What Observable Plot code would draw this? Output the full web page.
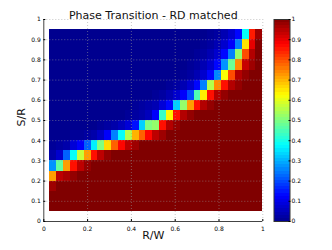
<!DOCTYPE html>
<html><head><meta charset="utf-8">
<script src="https://cdn.jsdelivr.net/npm/d3@7"></script>
<script src="https://cdn.jsdelivr.net/npm/@observablehq/plot@0.6"></script>
<style>
html,body{margin:0;padding:0;background:#fff;}
#chart{position:relative;width:332px;height:250px;font-family:"DejaVu Sans",sans-serif;}
#chart svg{position:absolute;left:0;top:0;}
</style></head><body><div id="chart"></div>
<script>
const title = "Phase Transition - RD matched";
const xLabel = "R/W";
const yLabel = "S/R";

// column centres (R/W) and row centres (S/R) of the grid
const rw = [0.0431,0.0745,0.1058,0.1372,0.1686,0.1999,0.2313,0.2627,0.2941,0.3254,
            0.3568,0.3882,0.4195,0.4509,0.4823,0.5137,0.5450,0.5764,0.6078,0.6391,
            0.6705,0.7019,0.7332,0.7646,0.7960,0.8274,0.8587,0.8901,0.9215,0.9528,0.9842];
const rwWidth = 0.03137;
const sr = [0.075,0.125,0.175,0.225,0.275,0.325,0.375,0.425,0.475,0.525,
            0.575,0.625,0.675,0.725,0.775,0.825,0.875,0.925];
const srHeight = 0.05;

// success probability, one row per S/R value (bottom to top), one entry per R/W column
const success = [
 [1,1,1,1,1, 1,1,1,1,1, 1,1,1,1,1, 1,1,1,1,1, 1,1,1,1,1, 1,1,1,1,1, 1],
 [1,1,1,1,1, 1,1,1,1,1, 1,1,1,1,1, 1,1,1,1,1, 1,1,1,1,1, 1,1,1,1,1, 1],
 [0.97, 1,1,1,1,1, 1,1,1,1,1, 1,1,1,1,1, 1,1,1,1,1, 1,1,1,1,1, 1,1,1,1,1],
 [0.72,0.94,0.96,0.98, 1,1,1,1,1, 1,1,1,1,1, 1,1,1,1,1, 1,1,1,1,1, 1,1,1,1,1, 1,1],
 [0.27,0.47,0.72,0.86,0.94,0.98, 1,1,1,1,1, 1,1,1,1,1, 1,1,1,1,1, 1,1,1,1,1, 1,1,1,1,1],
 [0.03,0.07,0.22,0.38,0.57,0.72,0.86,0.94,0.98, 1,1,1,1,1, 1,1,1,1,1, 1,1,1,1,1, 1,1,1,1,1, 1,1],
 [0.01,0.02,0.03,0.08,0.12,0.22,0.36,0.5,0.66,0.78,0.87,0.94,0.97, 1,1,1,1,1, 1,1,1,1,1, 1,1,1,1,1, 1,1,1],
 [0,0,0,0.01,0.01,0.02,0.03,0.06,0.12,0.25,0.38,0.55,0.7,0.78,0.87,0.94,0.97, 1,1,1,1,1, 1,1,1,1,1, 1,1,1,1],
 [0,0,0,0,0,0,0,0.01,0.02,0.03,0.05,0.08,0.14,0.33,0.5,0.52,0.86,0.95,0.98, 1,1,1,1,1, 1,1,1,1,1, 1,1],
 [0,0,0,0,0, 0,0,0,0,0, 0, 0.01,0.02,0.03,0.05,0.12,0.43,0.63,0.86,0.95,0.98, 1,1,1,1,1, 1,1,1,1,1],
 [0,0,0,0,0, 0,0,0,0,0, 0,0, 0.01,0.02,0.03,0.04,0.08,0.13,0.33,0.52,0.72,0.86,0.95,0.98, 1,1,1,1,1, 1,1],
 [0,0,0,0,0, 0,0,0,0,0, 0,0,0,0,0, 0.01,0.02,0.04,0.07,0.12,0.2,0.45,0.64,0.86,0.95,0.98, 1,1,1,1,1],
 [0,0,0,0,0, 0,0,0,0,0, 0,0,0,0,0, 0,0, 0.01,0.02,0.04,0.07,0.13,0.25,0.55,0.74,0.86,0.95,0.98, 1,1,1],
 [0,0,0,0,0, 0,0,0,0,0, 0,0,0,0,0, 0,0,0,0, 0.01,0.02,0.04,0.07,0.13,0.26,0.62,0.8,0.95,0.98, 1,1],
 [0,0,0,0,0, 0,0,0,0,0, 0,0,0,0,0, 0,0,0,0,0, 0.01,0.02,0.04,0.07,0.13,0.27,0.48,0.74,0.93,0.97,1],
 [0,0,0,0,0, 0,0,0,0,0, 0,0,0,0,0, 0,0,0,0,0, 0, 0.01,0.02,0.04,0.07,0.13,0.25,0.52,0.8,0.95,1],
 [0,0,0,0,0, 0,0,0,0,0, 0,0,0,0,0, 0,0,0,0,0, 0,0, 0.01,0.02,0.04,0.07,0.12,0.25,0.65,0.9,1],
 [0,0,0,0,0, 0,0,0,0,0, 0,0,0,0,0, 0,0,0,0,0, 0,0,0, 0.01,0.02,0.04,0.07,0.13,0.38,0.85,0.97]
];

const xTicks = [0, 0.2, 0.4, 0.6, 0.8, 1];
const yTicks = [0, 0.1, 0.2, 0.3, 0.4, 0.5, 0.6, 0.7, 0.8, 0.9, 1];
const cbTicks = [0, 0.1, 0.2, 0.3, 0.4, 0.5, 0.6, 0.7, 0.8, 0.9, 1];
const jetStops = [0, 0.125, 0.375, 0.625, 0.875, 1];
const jetColors = ["#00008f", "#0000ff", "#00ffff", "#ffff00", "#ff0000", "#800000"];
const cbLevels = d3.range(64);

const cells = sr.flatMap((s, i) => rw.map((r, j) => ({r, s, v: success[i][j]})));
const colorOpts = () => ({type: "linear", domain: jetStops, range: jetColors, interpolate: "rgb"});
const fmt = d => String(d);

const main = Plot.plot({
  width: 332, height: 250,
  marginLeft: 43.3, marginRight: 69.7, marginTop: 19, marginBottom: 29,
  style: {fontFamily: "DejaVu Sans", fontSize: "6px", color: "#000", background: "transparent", overflow: "visible"},
  x: {domain: [0, 1]},
  y: {domain: [0, 1]},
  color: colorOpts(),
  marks: [
    Plot.rect(cells, {
      x1: d => d.r - rwWidth / 2, x2: d => d.r + rwWidth / 2,
      y1: d => d.s - srHeight / 2, y2: d => d.s + srHeight / 2,
      fill: "v", shapeRendering: "crispEdges"
    }),
    Plot.gridX(xTicks.slice(1), {stroke: "#999", strokeOpacity: 0.55, strokeDasharray: "1,2"}),
    Plot.gridY(yTicks.slice(1), {stroke: "#999", strokeOpacity: 0.55, strokeDasharray: "1,2"}),
    Plot.ruleX([0], {stroke: "#444"}),
    Plot.ruleY([0], {stroke: "#444"}),
    Plot.axisX(xTicks, {tickSize: -2, tickPadding: 7.5, tickFormat: fmt, label: null}),
    Plot.axisY(yTicks, {tickSize: -2, tickPadding: 5, tickFormat: fmt, label: null}),
    Plot.text([title], {frameAnchor: "top", dy: -8.5, fontSize: 11, text: d => d, fill: "#111"}),
    Plot.text([xLabel], {frameAnchor: "bottom", dy: 17, fontSize: 11, text: d => d, fill: "#111"}),
    Plot.text([yLabel], {frameAnchor: "left", dx: -22, dy: 6, rotate: -90, fontSize: 11, text: d => d, fill: "#111"})
  ]
});

const bar = Plot.plot({
  width: 332, height: 250,
  marginLeft: 273.5, marginRight: 42.5, marginTop: 19, marginBottom: 29,
  style: {fontFamily: "DejaVu Sans", fontSize: "6px", color: "#000", background: "transparent", overflow: "visible"},
  x: {domain: [0, 1], axis: null},
  y: {domain: [0, 1]},
  color: colorOpts(),
  marks: [
    Plot.rect(cbLevels, {x1: 0, x2: 1, y1: i => i / 64, y2: i => (i + 1) / 64, fill: i => (i + 0.5) / 64, shapeRendering: "crispEdges"}),
    Plot.frame({stroke: "#333"}),
    Plot.axisY(cbTicks, {anchor: "right", tickSize: -2, tickPadding: 3.5, tickFormat: fmt, label: null})
  ]
});

const root = document.getElementById("chart");
root.appendChild(main);
root.appendChild(bar);
</script>
</body></html>
